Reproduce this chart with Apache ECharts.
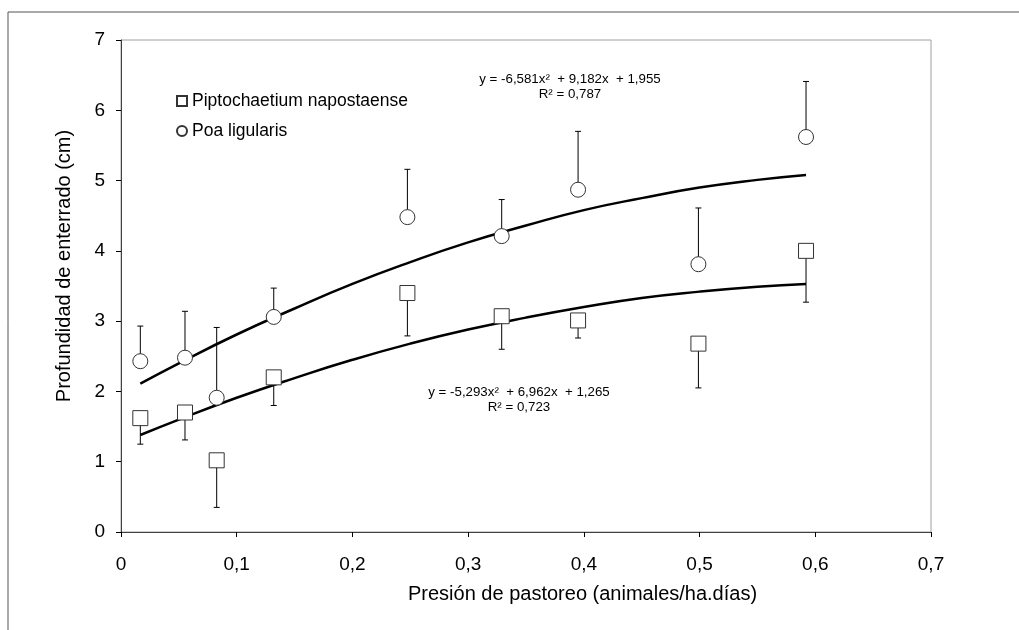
<!DOCTYPE html>
<html>
<head>
<meta charset="utf-8">
<script src="https://cdn.jsdelivr.net/npm/echarts@6/dist/echarts.min.js"></script>
<style>html,body{margin:0;padding:0;background:#fff}#c{width:1019px;height:630px}</style>
</head>
<body>
<div id="c"></div>
<script>
// Data
const xVals = [0.0167, 0.0553, 0.0827, 0.132, 0.2475, 0.329, 0.395, 0.499, 0.592];
const pipMeans = [1.62, 1.70, 1.02, 2.20, 3.40, 3.07, 3.01, 2.68, 4.00];
const pipErrLow = [1.25, 1.31, 0.35, 1.80, 2.79, 2.60, 2.76, 2.05, 3.27];
const poaMeans = [2.43, 2.48, 1.91, 3.06, 4.48, 4.21, 4.87, 3.81, 5.62];
const poaErrHigh = [2.93, 3.14, 2.91, 3.47, 5.16, 4.73, 5.70, 4.61, 6.41];
// Trend curves
const curveX = [0.0167, 0.05, 0.1, 0.15, 0.2, 0.25, 0.3, 0.35, 0.4, 0.45, 0.5, 0.55, 0.592];
const poaCurve = [2.11, 2.40, 2.81, 3.18, 3.53, 3.84, 4.12, 4.36, 4.58, 4.75, 4.90, 5.01, 5.08];
const pipCurve = [1.38, 1.60, 1.91, 2.19, 2.45, 2.68, 2.88, 3.05, 3.20, 3.33, 3.42, 3.49, 3.53];
const xTicks = ['0', '0,1', '0,2', '0,3', '0,4', '0,5', '0,6', '0,7'];
const seriesNames = ['Piptochaetium napostaense', 'Poa ligularis'];
const xTitle = 'Presión de pastoreo (animales/ha.días)';
const yTitle = 'Profundidad de enterrado (cm)';
const eqPoa = ['y = -6,581x²  + 9,182x  + 1,955', 'R² = 0,787'];
const eqPip = ['y = -5,293x²  + 6,962x  + 1,265', 'R² = 0,723'];

const FONT = '"Liberation Sans", Arial, sans-serif';
const chart = echarts.init(document.getElementById('c'), null, {renderer: 'canvas'});

function pairs(xs, ys) { return xs.map((x, i) => [x, ys[i]]); }
function errData(xs, ys, ends) { return xs.map((x, i) => [x, ys[i], ends[i]]); }

function errRender(params, api) {
  const p0 = api.coord([api.value(0), api.value(1)]);
  const p1 = api.coord([api.value(0), api.value(2)]);
  const style = {stroke: '#000', lineWidth: 1};
  return {
    type: 'group',
    children: [
      {type: 'line', shape: {x1: p0[0], y1: p0[1], x2: p1[0], y2: p1[1]}, style: style},
      {type: 'line', shape: {x1: p1[0] - 3, y1: p1[1], x2: p1[0] + 3, y2: p1[1]}, style: style}
    ]
  };
}

const option = {
  animation: false,
  backgroundColor: '#fff',
  grid: {left: 121, top: 40, right: 88, bottom: 98, show: true, borderColor: '#a0a0a0', borderWidth: 1},
  legend: {
    left: 176, top: 91, padding: 0, orient: 'vertical', itemGap: 10, itemWidth: 10, itemHeight: 10,
    textStyle: {fontFamily: FONT, fontSize: 17.5, color: '#000', lineHeight: 20},
    data: [{name: seriesNames[0], icon: 'rect'}, {name: seriesNames[1], icon: 'circle'}]
  },
  xAxis: {
    type: 'value', min: 0, max: 0.7, interval: 0.1,
    axisLine: {show: true, lineStyle: {color: '#404040', width: 1}},
    axisTick: {show: true, inside: false, length: 5, lineStyle: {color: '#000'}},
    axisLabel: {fontFamily: FONT, fontSize: 19, color: '#000', margin: 23,
      formatter: v => xTicks[Math.round(v * 10)]},
    splitLine: {show: false}
  },
  yAxis: {
    type: 'value', min: 0, max: 7, interval: 1,
    axisLine: {show: true, lineStyle: {color: '#404040', width: 1}},
    axisTick: {show: true, inside: false, length: 5, lineStyle: {color: '#000'}},
    axisLabel: {fontFamily: FONT, fontSize: 19, color: '#000', margin: 16},
    splitLine: {show: false}
  },
  graphic: [
    {type: 'rect', shape: {x: 8, y: 12, width: 1200, height: 800}, style: {fill: 'none', stroke: '#555', lineWidth: 1}, silent: true, z: -10},
    {type: 'text', x: 408, y: 594, style: {text: xTitle, fontFamily: FONT, fontSize: 20, fill: '#000', align: 'left', verticalAlign: 'middle'}},
    {type: 'text', x: 64, y: 266, rotation: Math.PI / 2, style: {text: yTitle, fontFamily: FONT, fontSize: 20, fill: '#000', align: 'center', verticalAlign: 'middle'}},
    {type: 'text', x: 570, y: 87, style: {text: eqPoa[0] + '\n' + eqPoa[1], fontFamily: FONT, fontSize: 13.3, lineHeight: 15, fill: '#000', align: 'center', verticalAlign: 'middle'}},
    {type: 'text', x: 519, y: 400, style: {text: eqPip[0] + '\n' + eqPip[1], fontFamily: FONT, fontSize: 13.3, lineHeight: 15, fill: '#000', align: 'center', verticalAlign: 'middle'}}
  ],
  series: [
    {type: 'line', name: 'trendPoa', data: pairs(curveX, poaCurve), smooth: true, showSymbol: false, symbol: 'none',
      lineStyle: {color: '#000', width: 2.5}, z: 2, legendHoverLink: false},
    {type: 'line', name: 'trendPip', data: pairs(curveX, pipCurve), smooth: true, showSymbol: false, symbol: 'none',
      lineStyle: {color: '#000', width: 2.5}, z: 2, legendHoverLink: false},
    {type: 'custom', name: 'errPip', renderItem: errRender, data: errData(xVals, pipMeans, pipErrLow), z: 3},
    {type: 'custom', name: 'errPoa', renderItem: errRender, data: errData(xVals, poaMeans, poaErrHigh), z: 3},
    {type: 'scatter', name: seriesNames[0], data: pairs(xVals, pipMeans), symbol: 'rect', symbolSize: 15,
      itemStyle: {color: '#fff', borderColor: '#333', borderWidth: 1, opacity: 1}, z: 5},
    {type: 'scatter', name: seriesNames[1], data: pairs(xVals, poaMeans), symbol: 'circle', symbolSize: 15,
      itemStyle: {color: '#fff', borderColor: '#333', borderWidth: 1, opacity: 1}, z: 5}
  ]
};
chart.setOption(option);
</script>
</body>
</html>
